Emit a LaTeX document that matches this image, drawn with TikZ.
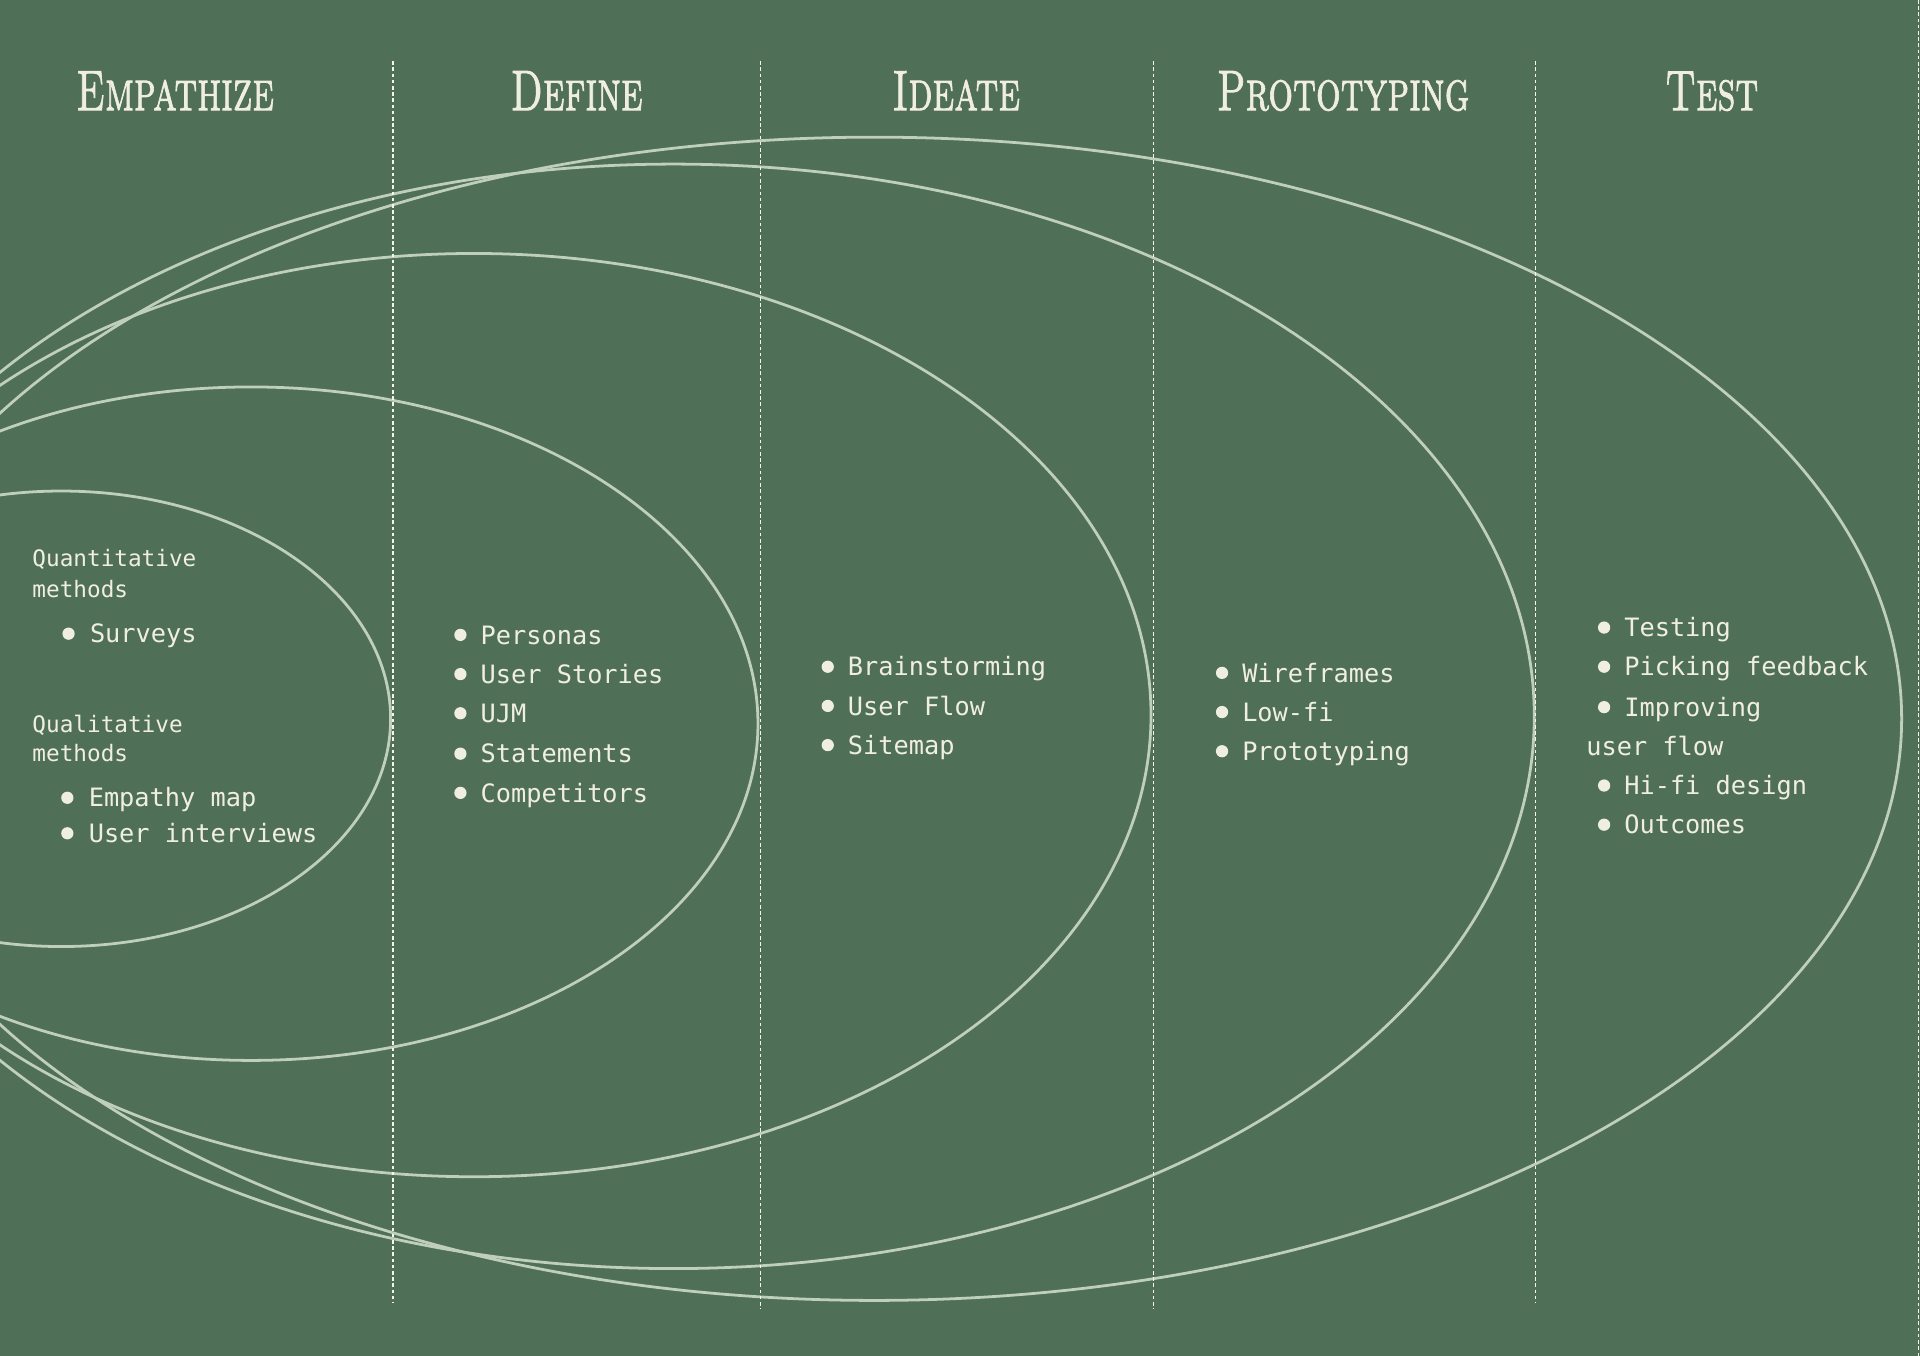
\documentclass[tikz,border=0pt]{standalone}
\usepackage{graphicx}
\usepackage{fontspec}
\setmonofont{DejaVu Sans Mono}
\newfontfamily\phasefont{lmromancaps10-regular.otf}[FakeBold=1.6]

\tikzset{every picture/.style={line width=0.75pt}}

\begin{document}
\begin{tikzpicture}[x=0.75pt,y=0.75pt,yscale=-1,xscale=1,
  ring/.style={color={rgb, 255:red, 192; green, 207; blue, 187 }, draw opacity=1, line width=1.7},
  divider/.style={color={rgb, 255:red, 244; green, 245; blue, 238 }, draw opacity=1, line width=0.75, dash pattern={on 2.2pt off 1.6pt}},
  dotfill/.style={fill={rgb, 255:red, 240; green, 238; blue, 226 }},
  phasetitle/.style={anchor=base, inner sep=0.75pt, color={rgb, 255:red, 240; green, 238; blue, 226 }, font=\phasefont\fontsize{35}{40}\selectfont},
  subhead/.style={anchor=base west, inner sep=0pt, color={rgb, 255:red, 240; green, 238; blue, 226 }, font=\ttfamily\fontsize{13.9}{16}\selectfont},
  itemtext/.style={anchor=base west, inner sep=0pt, color={rgb, 255:red, 240; green, 238; blue, 226 }, font=\ttfamily\fontsize{15.5}{18}\selectfont}
]
\useasboundingbox (0,0) rectangle (1568,1107);
%Shape: Rectangle [id:dp0417] 
\fill [color={rgb, 255:red, 79; green, 112; blue, 87 }] (0,0) rectangle (1568,1107);

\begin{scope}
\clip (0,0) rectangle (1568,1107);
%Shape: Ellipse [id:dp2301] 
\draw [ring] (50,587) ellipse (269 and 186);
%Shape: Ellipse [id:dp2302] 
\draw [ring] (205,591) ellipse (414 and 275);
%Shape: Ellipse [id:dp2303] 
\draw [ring] (387,584) ellipse (553 and 377);
%Shape: Ellipse [id:dp2304] 
\draw [ring] (550,585) ellipse (703 and 451);
%Shape: Ellipse [id:dp2305] 
\draw [ring] (714,587) ellipse (839 and 475);
\end{scope}

%Straight Lines [id:da5501] 
\draw [divider] (321,50) -- (321,1064);
%Straight Lines [id:da5502] 
\draw [divider] (621,50) -- (621,1069);
%Straight Lines [id:da5503] 
\draw [divider] (942,50) -- (942,1069);
%Straight Lines [id:da5504] 
\draw [divider] (1254,50) -- (1254,1064);
%Straight Lines [id:da5505] 
\draw [divider] (1566.5,0) -- (1566.5,1107);

% Text Node
\draw (143,90) node (tEmp) [phasetitle] {\scalebox{0.68}[1]{Empathize}};
% Text Node
\draw (471,90) node (tDef) [phasetitle] {\scalebox{0.68}[1]{Define}};
% Text Node
\draw (781,90) node (tIde) [phasetitle] {\scalebox{0.68}[1]{Ideate}};
% Text Node
\draw (1097,90) node (tPro) [phasetitle] {\scalebox{0.68}[1]{Prototyping}};
% Text Node
\draw (1398,90) node (tTst) [phasetitle] {\scalebox{0.68}[1]{Test}};

% Empathize column
\draw (26,463) node (emp1) [subhead] {Quantitative};
\draw (26,488) node (emp2) [subhead] {methods};
\fill [dotfill] (56,517.5) circle (5);
\draw (73,525) node (emp3) [itemtext] {Surveys};
\draw (26,598) node (emp4) [subhead] {Qualitative};
\draw (26,622) node (emp5) [subhead] {methods};
\fill [dotfill] (55,651.5) circle (5);
\draw (72,659) node (emp6) [itemtext] {Empathy map};
\fill [dotfill] (55,680.5) circle (5);
\draw (72,688) node (emp7) [itemtext] {User interviews};

% Define column
\fill [dotfill] (376,518.5) circle (5);
\draw (392,526) node (def1) [itemtext] {Personas};
\fill [dotfill] (376,550.5) circle (5);
\draw (392,558) node (def2) [itemtext] {User Stories};
\fill [dotfill] (376,582.5) circle (5);
\draw (392,590) node (def3) [itemtext] {UJM};
\fill [dotfill] (376,615.5) circle (5);
\draw (392,623) node (def4) [itemtext] {Statements};
\fill [dotfill] (376,647.5) circle (5);
\draw (392,655) node (def5) [itemtext] {Competitors};

% Ideate column
\fill [dotfill] (676,544.5) circle (5);
\draw (692,552) node (ide1) [itemtext] {Brainstorming};
\fill [dotfill] (676,576.5) circle (5);
\draw (692,584) node (ide2) [itemtext] {User Flow};
\fill [dotfill] (676,608.5) circle (5);
\draw (692,616) node (ide3) [itemtext] {Sitemap};

% Prototyping column
\fill [dotfill] (998,549.5) circle (5);
\draw (1014,557) node (pro1) [itemtext] {Wireframes};
\fill [dotfill] (998,581.5) circle (5);
\draw (1014,589) node (pro2) [itemtext] {Low-fi};
\fill [dotfill] (998,613.5) circle (5);
\draw (1014,621) node (pro3) [itemtext] {Prototyping};

% Test column
\fill [dotfill] (1310,512.5) circle (5);
\draw (1326,520) node (tst1) [itemtext] {Testing};
\fill [dotfill] (1310,544.5) circle (5);
\draw (1326,552) node (tst2) [itemtext] {Picking feedback};
\fill [dotfill] (1310,577.5) circle (5);
\draw (1326,585) node (tst3) [itemtext] {Improving};
\draw (1295,617) node (tst4) [itemtext] {user flow};
\fill [dotfill] (1310,641.5) circle (5);
\draw (1326,649) node (tst5) [itemtext] {Hi-fi design};
\fill [dotfill] (1310,673.5) circle (5);
\draw (1326,681) node (tst6) [itemtext] {Outcomes};

\end{tikzpicture}
\end{document}
